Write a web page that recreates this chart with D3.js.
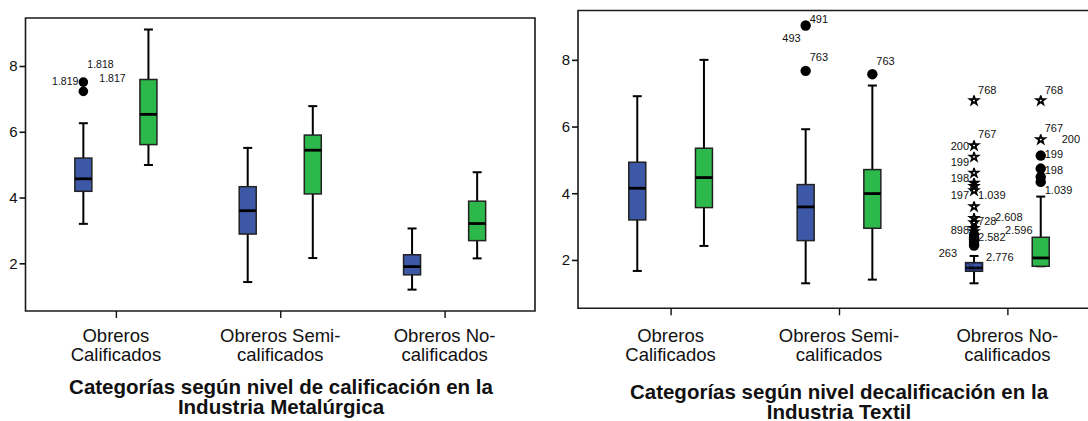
<!DOCTYPE html>
<html>
<head>
<meta charset="utf-8">
<script src="https://cdn.jsdelivr.net/npm/d3@7"></script>
<style>
  body { margin: 0; background: #fff; }
  svg { font-family: Arial, "Liberation Sans", sans-serif; }
</style>
</head>
<body>
<svg id="chart" width="1088" height="421"></svg>
<script>
// categories on the x axis (each label split on two lines)
const categories = ["Obreros Calificados", "Obreros Semi-calificados", "Obreros No-calificados"];
const categoryLines = [["Obreros", "Calificados"], ["Obreros Semi-", "calificados"], ["Obreros No-", "calificados"]];
const groups = ["g1", "g2"];
const yTicks = [2, 4, 6, 8];

// box summaries: [whisker low, Q1, median, Q3, whisker high], per category, per group
const metalBlue  = [[3.20, 4.19, 4.57, 5.20, 6.26], [1.43, 2.89, 3.60, 4.33, 5.51], [1.20, 1.65, 1.90, 2.26, 3.06]];
const metalGreen = [[4.99, 5.61, 6.53, 7.59, 9.11], [2.16, 4.11, 5.44, 5.90, 6.78], [2.15, 2.69, 3.21, 3.89, 4.77]];
const textBlue   = [[1.67, 3.20, 4.15, 4.93, 6.91], [1.30, 2.58, 3.59, 4.26, 5.92], [1.30, 1.66, 1.76, 1.92, 2.12]];
const textGreen  = [[2.42, 3.57, 4.47, 5.35, 8.00], [1.41, 2.95, 3.99, 4.71, 7.23], [1.81, 1.81, 2.06, 2.68, 3.90]];

// outliers: [category, group, value, kind] kind o = circle, e = extreme (star)
const metalOutliers = [[0, 0, 7.51, "o"], [0, 0, 7.23, "o"]];
const textOutliers = [
  [1, 0, 9.03, "o"], [1, 0, 7.67, "o"], [1, 1, 7.57, "o"],
  [2, 0, 6.78, "e"], [2, 0, 5.43, "e"], [2, 0, 5.09, "e"], [2, 0, 4.61, "e"], [2, 0, 4.31, "e"],
  [2, 0, 4.21, "e"], [2, 0, 4.08, "e"], [2, 0, 3.60, "e"], [2, 0, 3.25, "e"], [2, 0, 3.12, "e"],
  [2, 0, 2.95, "e"], [2, 0, 2.85, "e"],
  [2, 0, 2.76, "o"], [2, 0, 2.68, "o"], [2, 0, 2.62, "o"], [2, 0, 2.55, "o"], [2, 0, 2.48, "o"], [2, 0, 2.43, "o"],
  [2, 1, 6.78, "e"], [2, 1, 5.61, "e"],
  [2, 1, 5.13, "o"], [2, 1, 4.74, "o"], [2, 1, 4.49, "o"], [2, 1, 4.34, "o"]
];

// case-number labels: [category, group, value, text, side]
const metalLabels = [
  [0, 0, 7.53, "1.819", "l"], [0, 0, 8.04, "1.818", "r"], [0, 0, 7.62, "1.817", "r3"]
];
const textLabels = [
  [1, 0, 9.21, "491", "r"], [1, 0, 8.65, "493", "l"], [1, 0, 8.07, "763", "r"], [1, 1, 7.97, "763", "r"],
  [2, 0, 7.10, "768", "r"], [2, 0, 5.76, "767", "r"], [2, 0, 5.42, "200", "l"], [2, 0, 4.93, "199", "l"],
  [2, 0, 4.44, "198", "l"], [2, 0, 3.95, "197", "l"], [2, 0, 3.93, "1.039", "r"], [2, 0, 3.17, "728", "r"],
  [2, 0, 3.29, "2.608", "r4"], [2, 0, 2.90, "898", "l"], [2, 0, 2.69, "2.582", "r"], [2, 0, 2.88, "2.596", "r5"],
  [2, 0, 2.19, "263", "l3"], [2, 0, 2.09, "2.776", "r2"], [2, 0, 1.79, "257", "c"],
  [2, 1, 7.10, "768", "r"], [2, 1, 5.94, "767", "r"], [2, 1, 5.61, "200", "r4"], [2, 1, 5.16, "199", "r"],
  [2, 1, 4.70, "198", "r"], [2, 1, 4.08, "1.039", "r"]
];

const titleMetal = ["Categorías según nivel de calificación en la", "Industria Metalúrgica"];
const titleText = ["Categorías según nivel decalificación en la", "Industria Textil"];

const colors = {g1: "#3e58a8", g2: "#2db84b"};
const svg = d3.select("#chart");

function drawPanel(p) {
  const g = svg.append("g");
  const x = d3.scalePoint().domain(categories).range([p.x0, p.x1]).padding(0.55);
  const gx = d3.scalePoint().domain(groups).range([-x.step() * 0.198, x.step() * 0.198]);
  const y = d3.scaleLinear().domain(p.domain).range([p.y1, p.y0]);
  const bw = 17, cap = 9;

  // frame
  g.append("path")
    .attr("d", `M${p.x0},${p.y1}V${p.y0}H${p.x1}V${p.y1}Z`)
    .attr("fill", "none").attr("stroke", "#1a1a1a").attr("stroke-width", 1.6);

  // y axis
  const ya = g.append("g").attr("transform", `translate(${p.x0},0)`)
    .call(d3.axisLeft(y).tickValues(yTicks).tickSize(6).tickPadding(2).tickFormat(d3.format("d")));
  ya.select(".domain").remove();
  ya.selectAll("line").attr("stroke", "#111").attr("stroke-width", 1.6);
  ya.selectAll("text").attr("font-size", 15).attr("fill", "#111").attr("font-family", "Arial, Liberation Sans");

  // x axis
  const xa = g.append("g").attr("transform", `translate(0,${p.y1})`)
    .call(d3.axisBottom(x).tickSize(7).tickFormat(""));
  xa.select(".domain").remove();
  xa.selectAll("line").attr("stroke", "#111").attr("stroke-width", 1.4);

  categories.forEach((c, i) => {
    const t = g.append("text").attr("x", x(c)).attr("y", p.labelY)
      .attr("text-anchor", "middle").attr("font-size", 18.5).attr("fill", "#111");
    categoryLines[i].forEach((ln, k) => {
      t.append("tspan").attr("x", x(c)).attr("dy", k ? 19.5 : 0).text(ln);
    });
  });

  // two-line bold title, one text element per line
  p.title.forEach((ln, k) => {
    g.append("text").attr("x", p.titleX).attr("y", p.titleY + k * 19.5)
      .attr("text-anchor", "middle").attr("font-size", 20.5).attr("font-weight", "bold")
      .attr("fill", "#111").text(ln);
  });

  // boxes
  [p.blue, p.green].forEach((arr, gi) => {
    arr.forEach((s, ci) => {
      const cx = x(categories[ci]) + gx(groups[gi]);
      const [lo, q1, md, q3, hi] = s;
      g.append("line").attr("x1", cx).attr("x2", cx).attr("y1", y(lo)).attr("y2", y(hi))
        .attr("stroke", "#000").attr("stroke-width", 2);
      [lo, hi].forEach(v => g.append("line").attr("x1", cx - cap / 2).attr("x2", cx + cap / 2)
        .attr("y1", y(v)).attr("y2", y(v)).attr("stroke", "#000").attr("stroke-width", 2));
      g.append("rect").attr("x", cx - bw / 2).attr("width", bw)
        .attr("y", y(q3)).attr("height", y(q1) - y(q3))
        .attr("fill", colors[groups[gi]]).attr("stroke", "#222").attr("stroke-width", 1.5);
      g.append("line").attr("x1", cx - bw / 2).attr("x2", cx + bw / 2)
        .attr("y1", y(md)).attr("y2", y(md)).attr("stroke", "#000").attr("stroke-width", 2.8);
    });
  });

  // outliers
  p.outliers.forEach(([ci, gi, v, kind]) => {
    const cx = x(categories[ci]) + gx(groups[gi]);
    if (kind === "o") {
      g.append("circle").attr("cx", cx).attr("cy", y(v)).attr("r", p.r).attr("fill", "#000");
    } else {
      // pentagram drawn with lines, like SPSS extremes
      const pts = d3.range(5).map(k => {
        const a = -Math.PI / 2 + k * 2 * Math.PI / 5;
        return [cx + 5 * Math.cos(a), y(v) + 5 * Math.sin(a)];
      });
      const order = [0, 2, 4, 1, 3, 0].map(k => pts[k]);
      g.append("path").attr("d", d3.line()(order))
        .attr("fill", "none").attr("stroke", "#000").attr("stroke-width", 1.4);
    }
  });

  const off = {l: [-5, "end"], l3: [-17, "end"], r: [4, "start"], r2: [12, "start"], r3: [16, "start"],
               r4: [21, "start"], r5: [31, "start"], c: [0, "middle"]};
  p.labels.forEach(([ci, gi, v, txt, side]) => {
    const cx = x(categories[ci]) + gx(groups[gi]);
    g.append("text").attr("x", cx + off[side][0]).attr("y", y(v)).attr("dy", "0.35em")
      .attr("text-anchor", off[side][1]).attr("font-size", p.labelSize)
      .attr("fill", side === "c" ? "#1b2a66" : "#111").text(txt);
  });
}

drawPanel({
  x0: 25.5, x1: 535, y0: 18, y1: 311, domain: [0.55, 9.46],
  blue: metalBlue, green: metalGreen, outliers: metalOutliers, labels: metalLabels,
  r: 4.8, labelSize: 10.5, labelY: 341.5,
  title: titleMetal, titleX: 281, titleY: 394
});
drawPanel({
  x0: 578, x1: 1100, y0: 10.5, y1: 308.3, domain: [0.55, 9.48],
  blue: textBlue, green: textGreen, outliers: textOutliers, labels: textLabels,
  r: 5.2, labelSize: 11, labelY: 341.5,
  title: titleText, titleX: 839, titleY: 399
});
</script>
</body>
</html>
